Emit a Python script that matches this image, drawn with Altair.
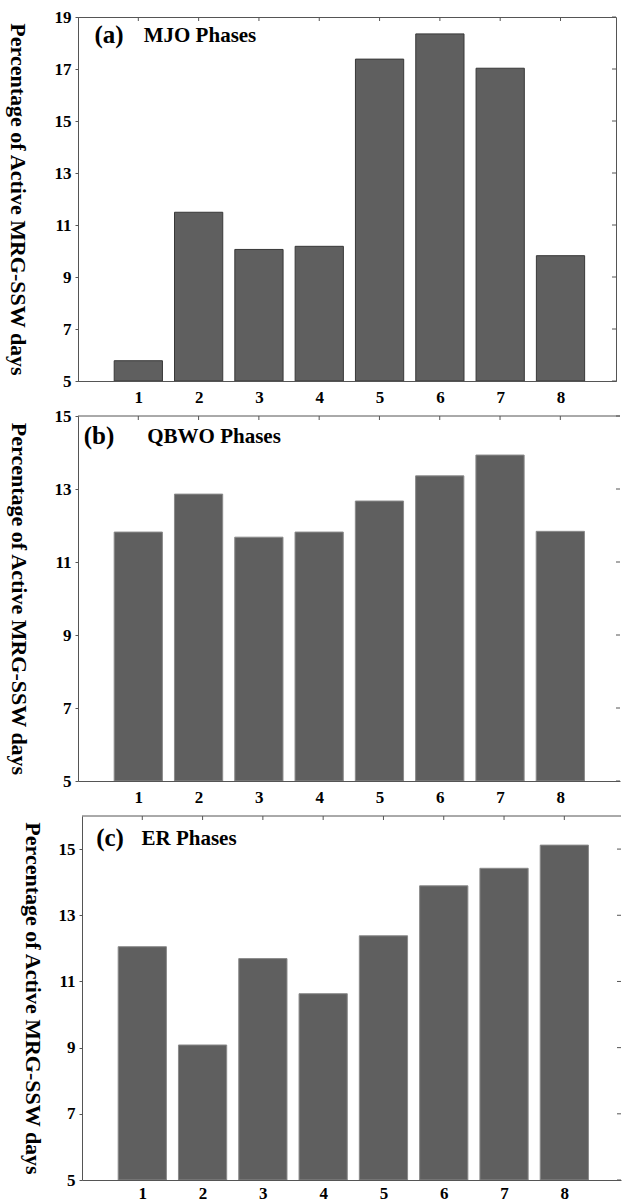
import altair as alt
import pandas as pd

# ---- data ----
phases = [1, 2, 3, 4, 5, 6, 7, 8]
mjo_values = [5.78, 11.49, 10.06, 10.18, 17.38, 18.35, 17.03, 9.82]
qbwo_values = [11.82, 12.86, 11.68, 11.82, 12.67, 13.36, 13.93, 11.84]
er_values = [12.05, 9.08, 11.69, 10.63, 12.38, 13.89, 14.42, 15.12]

panel_letters = ["(a)", "(b)", "(c)"]
panel_names = ["MJO Phases", "QBWO Phases", "ER Phases"]
y_title = "Percentage of Active MRG-SSW days"

mjo_ticks = [5, 7, 9, 11, 13, 15, 17, 19]
qbwo_ticks = [5, 7, 9, 11, 13, 15]
er_ticks = [5, 7, 9, 11, 13, 15]

SERIF = "Liberation Serif"
BAR_FILL = "#5f5f5f"
AXIS_COL = "#555555"


def panel(values, ticks, ydomain, xdomain, width, height, letter, name,
          letter_pos, name_pos, title_x, bar_stroke, right_frame, xlab_pad=8):
    df = pd.DataFrame({"phase": phases, "value": values})
    df["lo"] = df["phase"] - 0.4
    df["hi"] = df["phase"] + 0.4
    xscale = alt.Scale(domain=xdomain, nice=False, zero=False)
    yscale = alt.Scale(domain=ydomain, nice=False, zero=False)

    bars = alt.Chart(df).mark_bar(
        color=BAR_FILL, stroke=bar_stroke, strokeWidth=1, clip=True
    ).encode(
        x=alt.X("lo:Q", scale=xscale,
                axis=alt.Axis(values=phases, format="d", ticks=False,
                              labelPadding=xlab_pad, grid=False, title=None,
                              domainColor=AXIS_COL)),
        x2="hi:Q",
        y=alt.Y("value:Q", scale=yscale,
                axis=alt.Axis(values=ticks, format="d", tickSize=3,
                              tickColor=AXIS_COL, domainColor=AXIS_COL,
                              labelPadding=4, grid=False, title=y_title,
                              titleAngle=90, titleX=title_x,
                              titleY=height / 2, titleAlign="center",
                              titleBaseline="middle")),
        y2=alt.datum(ydomain[0]),
    )

    # inward ticks on the top edge
    tdf = pd.DataFrame({"phase": phases})
    top_ticks = alt.Chart(tdf).mark_rule(color=AXIS_COL, strokeWidth=1).encode(
        x=alt.X("phase:Q", scale=xscale),
        y=alt.value(0),
        y2=alt.value(4),
    )
    # inward ticks on the right edge
    rdf = pd.DataFrame({"t": ticks})
    right_ticks = alt.Chart(rdf).mark_rule(color=AXIS_COL, strokeWidth=1).encode(
        y=alt.Y("t:Q", scale=yscale),
        x=alt.value(width - 4),
        x2=alt.value(width),
    )
    layers = [bars, top_ticks, right_ticks]

    if not right_frame:
        top_line = alt.Chart(tdf.head(1)).mark_rule(
            color=AXIS_COL, strokeWidth=1).encode(
            x=alt.value(0), x2=alt.value(width), y=alt.value(0))
        layers.append(top_line)

    ldf = pd.DataFrame({"label": [letter]})
    letter_txt = alt.Chart(ldf).mark_text(
        font=SERIF, fontSize=25, fontWeight="bold", align="center",
        baseline="middle", color="black"
    ).encode(text="label:N", x=alt.value(letter_pos[0]), y=alt.value(letter_pos[1]))
    ndf = pd.DataFrame({"label": [name]})
    name_txt = alt.Chart(ndf).mark_text(
        font=SERIF, fontSize=21, fontWeight="bold", align="center",
        baseline="middle", color="black"
    ).encode(text="label:N", x=alt.value(name_pos[0]), y=alt.value(name_pos[1]))
    layers += [letter_txt, name_txt]

    if right_frame:
        view = alt.ViewBackground(stroke=AXIS_COL, strokeWidth=1)
    else:
        view = alt.ViewBackground(strokeWidth=0)
    return alt.layer(*layers).properties(width=width, height=height, view=view)


pa = panel(mjo_values, mjo_ticks, [5, 19], [0, 8.92], 538, 364,
           panel_letters[0], panel_names[0], (31, 18), (122, 19), -61,
           "#383838", True)
pb = panel(qbwo_values, qbwo_ticks, [5, 15], [0, 8.99], 542, 365,
           panel_letters[1], panel_names[1], (21, 20), (136, 21), -60,
           "#8a8a8a", False)
pc = panel(er_values, er_ticks, [5, 16], [0, 8.94], 539, 364,
           panel_letters[2], panel_names[2], (28, 22), (107, 23), -50,
           "#8a8a8a", False, xlab_pad=5)

spacer = alt.Chart(pd.DataFrame({"v": [0]})).mark_point(opacity=0).encode(
    x=alt.value(0), y=alt.value(0)).properties(width=4, height=364,
                                               view=alt.ViewBackground(strokeWidth=0))
pc_row = alt.hconcat(spacer, pc, spacing=0, bounds="flush")

chart = alt.vconcat(pa, pb, pc_row, spacing=35, bounds="flush").properties(
    padding={"left": 5, "top": 7, "right": 0, "bottom": 0},
    background="white",
).configure_axis(
    labelFont=SERIF, labelFontSize=17, labelFontWeight="bold", labelColor="black",
    titleFont=SERIF, titleFontSize=22, titleFontWeight="bold", titleColor="black",
).configure_view(strokeWidth=0)

chart.save("out.html", embed_options={"renderer": "svg", "actions": False})
